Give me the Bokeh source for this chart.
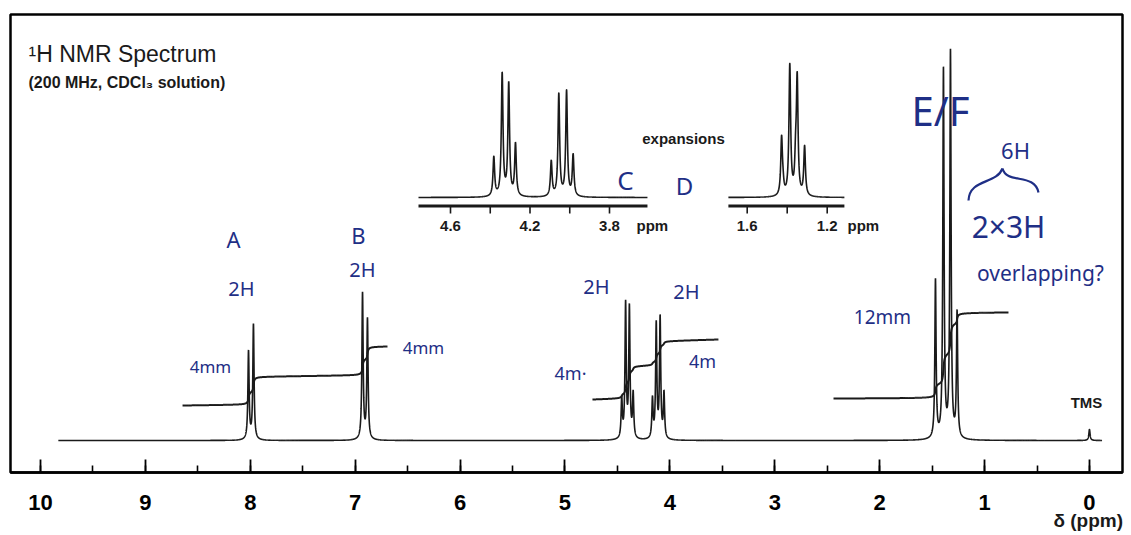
import numpy as np
from bokeh.plotting import figure
from bokeh.models import Range1d, SingleIntervalTicker, ColumnDataSource
from bokeh.embed import file_html
from bokeh.resources import INLINE
from bokeh.core.properties import value

# ---------------- data ----------------
# main spectrum: line positions (ppm) and heights (above baseline)
peak_A_ppm = [8.017, 7.970]
peak_A_height = [88, 115]
peak_B_ppm = [6.930, 6.883]
peak_B_height = [146, 120]
peak_C_ppm = [4.459, 4.422, 4.386, 4.350]
peak_C_height = [39, 134, 130, 44]
peak_D_ppm = [4.166, 4.130, 4.093, 4.056]
peak_D_height = [39, 114, 120, 45]
peak_EF_ppm = [1.468, 1.392, 1.325, 1.262]
peak_EF_height = [158, 368, 386, 125]
peak_TMS_ppm = [0.0]
peak_TMS_height = [11]
spectrum_ppm_window = [9.83, -0.12]

# integral trace: segments (ppm from/to), start/end levels, peaks integrated
integral_segment_ppm = [[8.646, 6.692], [4.738, 3.537], [2.44, 0.772]]
integral_segment_level = [[35, 94], [41, 101], [42, 128]]
integral_segment_peaks = [["A", "B"], ["C", "D"], ["EF"]]
integral_step = {"A": 28, "B": 28.6, "C": 32.4, "D": 24.2, "EF": 85.7}

# expansion 1 (C / D quartets)
exp1_C_ppm = [4.382, 4.340, 4.307, 4.273]
exp1_C_height = [39, 122, 112, 52]
exp1_D_ppm = [4.093, 4.055, 4.016, 3.983]
exp1_D_height = [35, 102, 105, 41]
exp1_ppm_window = [4.761, 3.609]
exp1_major_ticks = [4.6, 4.2, 3.8]
exp1_tick_labels = ["4.6", "4.2", "3.8"]
exp1_minor_ticks = [4.4, 4.0]

# expansion 2 (E / F overlapping triplets)
exp2_EF_ppm = [1.428, 1.421, 1.387, 1.358, 1.350, 1.313]
exp2_EF_height = [57, 8, 130, 30, 114, 49]
exp2_ppm_window = [1.694, 1.114]
exp2_major_ticks = [1.6, 1.2]
exp2_tick_labels = ["1.6", "1.2"]
exp2_minor_ticks = [1.4]

# handwritten notes
note_text = ["A", "B", "2H", "2H", "4mm", "4mm", "2H", "2H", "4m·", "4m",
             "C", "D", "E/F", "6H", "2×3H", "overlapping?", "12mm"]

# ---------------- layout constants ----------------
HW_MAIN = 0.007
HW_EXP = 0.005
INK = "#1a1a1a"
PEN = "#1f2f86"
X0, X1 = 10.286, -0.315          # main ppm range over the frame
Y0, Y1 = -32, 426                 # main height range over the frame
FRAME_L, FRAME_W = 10, 1112       # page pixels


def px_to_ppm(px):
    return X0 - (px - FRAME_L) * (X0 - X1) / FRAME_W


def py_to_y(py):
    return 440 - py


def lines_sum(grid, ppm, height, hw):
    g = np.asarray(grid)[:, None]
    return (np.asarray(height, float)[None, :] /
            (1 + ((g - np.asarray(ppm)[None, :]) / hw) ** 2)).sum(axis=1)


groups = {"A": (peak_A_ppm, peak_A_height), "B": (peak_B_ppm, peak_B_height),
          "C": (peak_C_ppm, peak_C_height), "D": (peak_D_ppm, peak_D_height),
          "EF": (peak_EF_ppm, peak_EF_height), "TMS": (peak_TMS_ppm, peak_TMS_height)}

p = figure(width=1131, height=535, x_range=Range1d(X0, X1), y_range=Range1d(Y0, Y1),
           output_backend="svg", toolbar_location=None, y_axis_location=None,
           min_border_left=10, min_border_right=9, min_border_top=14, min_border_bottom=63)
p.grid.visible = False
p.outline_line_color = "black"
p.outline_line_width = 2.5
p.background_fill_color = "white"
p.border_fill_color = "white"

ax = p.xaxis[0]
ax.ticker = SingleIntervalTicker(interval=1, num_minor_ticks=2)
ax.axis_line_width = 2.5
ax.axis_line_color = "black"
ax.major_tick_in = 13
ax.major_tick_out = 0
ax.minor_tick_in = 7
ax.minor_tick_out = 0
ax.major_tick_line_width = 1.8
ax.minor_tick_line_width = 1.6
ax.major_label_standoff = 22
ax.major_label_text_font = "Liberation Sans"
ax.major_label_text_font_style = "bold"
ax.major_label_text_font_size = "22px"
ax.major_label_text_color = "black"

# axis caption "δ (ppm)" at the right end, under the tick labels
# (trailing no-break spaces pull the centred caption left so it ends at the frame edge)
ax.axis_label = "δ (ppm)" + "\u00a0" * 13
ax.axis_label_align = "start"
ax.axis_label_standoff = -3
ax.axis_label_text_font = "Liberation Sans"
ax.axis_label_text_font_style = "bold"
ax.axis_label_text_font_size = "19px"
ax.axis_label_text_color = INK

# main spectrum
grid = np.linspace(spectrum_ppm_window[0], spectrum_ppm_window[1], 24000)
spec = np.zeros_like(grid)
for key, (pp, hh) in groups.items():
    spec += lines_sum(grid, pp, hh, HW_MAIN)
p.line(grid, spec, line_color=INK, line_width=1.6)

# integral traces
for (s, e), (l0, l1), names in zip(integral_segment_ppm, integral_segment_level,
                                   integral_segment_peaks):
    g = np.linspace(s, e, 4000)
    lev = np.full_like(g, float(l0))
    total = 0.0
    for n in names:
        shape = lines_sum(g, *groups[n], HW_MAIN)
        cum = np.cumsum(shape)
        cum = (cum - cum[0]) / (cum[-1] - cum[0])
        lev += integral_step[n] * cum
        total += integral_step[n]
    lev += (l1 - l0 - total) * np.linspace(0, 1, len(g))
    p.line(g, lev, line_color=INK, line_width=2.0)

# ---- expansions (own ppm scales, baseline at page y 197) ----
p.extra_y_ranges = {"exp": Range1d(197 - 472, 197 - 14)}
p.extra_x_ranges = {
    "e1": Range1d(4.6 + (450 - 10) / 198.75, 4.6 - (1122 - 450) / 198.75),
    "e2": Range1d(1.6 + (746.7 - 10) / 200.0, 1.6 - (1122 - 746.7) / 200.0),
}
exp_sets = [
    ("e1", exp1_ppm_window, [(exp1_C_ppm, exp1_C_height), (exp1_D_ppm, exp1_D_height)],
     exp1_major_ticks, exp1_tick_labels, exp1_minor_ticks, 3.664),
    ("e2", exp2_ppm_window, [(exp2_EF_ppm, exp2_EF_height)],
     exp2_major_ticks, exp2_tick_labels, exp2_minor_ticks, 1.0985),
]
for rn, win, sets, majors, labels, minors, ppm_x in exp_sets:
    g = np.linspace(win[0], win[1], 6000)
    s = np.zeros_like(g)
    for pp, hh in sets:
        s += lines_sum(g, pp, hh, HW_EXP)
    p.line(g, s, line_color=INK, line_width=1.6, x_range_name=rn, y_range_name="exp")
    p.line(win, [-8.5, -8.5], line_color=INK, line_width=3.2,
           x_range_name=rn, y_range_name="exp")
    ticks = list(majors) + list(minors)
    p.segment(x0=ticks, y0=[-9] * len(ticks), x1=ticks, y1=[-16] * len(ticks),
              line_color=INK, line_width=1.6, x_range_name=rn, y_range_name="exp")
    p.text(x=majors, y=[-28] * len(majors), text=labels,
           text_font=value("Liberation Sans"), text_font_style="bold",
           text_font_size=value("15px"), text_align="center", text_baseline="middle",
           text_color=INK, x_range_name=rn, y_range_name="exp")
    p.text(x=[ppm_x], y=[-28], text=["ppm"],
           text_font=value("Liberation Sans"), text_font_style="bold",
           text_font_size=value("15px"), text_align="left", text_baseline="middle",
           text_color=INK, x_range_name=rn, y_range_name="exp")

# ---- printed texts ----
p.text(x=[px_to_ppm(28)], y=[py_to_y(53)], text=["¹H NMR Spectrum"],
       text_font=value("Liberation Sans"), text_font_size=value("23px"),
       text_align="left", text_baseline="alphabetic", text_color=INK)
p.text(x=[px_to_ppm(28)], y=[py_to_y(82)], text=["(200 MHz, CDCl₃ solution)"],
       text_font=value("Liberation Sans"), text_font_style="bold",
       text_font_size=value("16px"), text_align="left", text_baseline="alphabetic",
       text_color=INK)
p.text(x=[px_to_ppm(683)], y=[py_to_y(138)], text=["expansions"],
       text_font=value("Liberation Sans"), text_font_style="bold",
       text_font_size=value("15px"), text_align="center", text_baseline="middle",
       text_color=INK)
p.text(x=[px_to_ppm(1086)], y=[py_to_y(402)], text=["TMS"],
       text_font=value("Liberation Sans"), text_font_style="bold",
       text_font_size=value("15px"), text_align="center", text_baseline="middle",
       text_color=INK)

# ---- handwritten notes ----
note_px = [233, 358, 241, 362, 210, 423, 596, 686, 570, 702,
           625, 684, 940, 1015, 1008, 1040, 882]
note_py = [238, 234, 288, 269, 366, 347, 286, 291, 372, 360,
           179, 185, 110, 149, 226, 272, 316]
note_size = ["22px", "22px", "20px", "20px", "17px", "17px", "20px", "20px", "18px", "18px",
             "26px", "24px", "40px", "22px", "30px", "21px", "19px"]
notes = ColumnDataSource(dict(x=[px_to_ppm(v) for v in note_px],
                              y=[py_to_y(v) for v in note_py],
                              text=note_text, size=note_size))
p.text(x="x", y="y", text="text", source=notes, text_font_size="size",
       text_font=value("Noto Sans"), text_align="center", text_baseline="middle",
       text_color=PEN)
# curly brace over "2×3H"
p.bezier(x0=[px_to_ppm(968), px_to_ppm(1002)], y0=[py_to_y(200), py_to_y(168)],
         x1=[px_to_ppm(1002), px_to_ppm(1038)], y1=[py_to_y(168), py_to_y(192)],
         cx0=[px_to_ppm(969), px_to_ppm(1006)], cy0=[py_to_y(178), py_to_y(184)],
         cx1=[px_to_ppm(996), px_to_ppm(1034)], cy1=[py_to_y(184), py_to_y(172)],
         line_color=PEN, line_width=2.2)

open("out.html", "w").write(file_html(p, INLINE))
